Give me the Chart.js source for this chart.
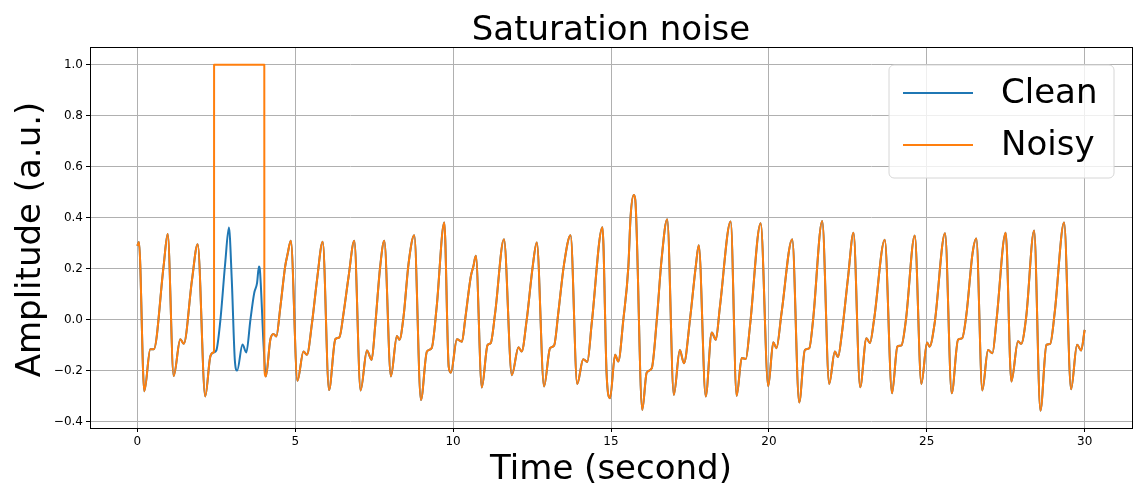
<!DOCTYPE html>
<html lang="en">
<head>
    <meta charset="UTF-8">
    <title>Saturation noise</title>
    <script src="https://cdn.jsdelivr.net/npm/chart.js"></script>
    <style>
        body { margin: 0; background: #fff; }
    </style>
</head>
<body>
    <canvas id="chart" width="1134" height="491"></canvas>
    <script>
        // time axis (seconds) and clean signal
        const timeSec = [
            0.00, 0.05, 0.22, 0.41, 0.52, 0.83, 0.96, 1.15, 1.36, 1.47, 1.73, 1.91, 2.15, 2.31, 2.41,
            2.50, 2.63, 2.78, 2.90, 2.99, 3.09, 3.16, 3.33, 3.45, 3.58, 3.70, 3.79, 3.85, 3.88, 4.00,
            4.07, 4.21, 4.31, 4.40, 4.53, 4.68, 4.76, 4.86, 5.07, 5.26, 5.37, 5.53, 5.69, 5.87,
            6.07, 6.27, 6.40, 6.53, 6.69, 6.87, 7.07, 7.27, 7.42, 7.53, 7.69, 7.82,
            8.03, 8.22, 8.30, 8.43, 8.59, 8.77, 8.98, 9.17, 9.32, 9.48, 9.72, 9.86,
            9.93, 10.12, 10.28, 10.38, 10.56, 10.64, 10.72, 10.91, 11.09, 11.19, 11.33, 11.61,
            11.86, 12.07, 12.17, 12.33, 12.52, 12.65, 12.88, 13.07, 13.20, 13.33, 13.51, 13.72,
            13.93, 14.12, 14.25, 14.39, 14.73, 14.86, 14.97, 15.13, 15.23, 15.39, 15.55, 15.62, 15.72, 15.77,
            15.99, 16.13, 16.29, 16.45, 16.60, 16.78, 16.99, 17.18, 17.31, 17.50, 17.69, 17.78,
            18.00, 18.19, 18.32, 18.45, 18.79, 18.98, 19.14, 19.27, 19.40, 19.74,
            19.98, 20.14, 20.24, 20.40, 20.74, 20.96, 21.14, 21.28, 21.40, 21.69,
            21.91, 22.09, 22.19, 22.30, 22.51, 22.68, 22.89, 23.09, 23.20, 23.33, 23.67,
            23.90, 24.07, 24.20, 24.34, 24.62, 24.83, 25.01, 25.09, 25.25, 25.58,
            25.79, 25.99, 26.12, 26.26, 26.45, 26.57, 26.76, 26.94, 27.08, 27.21, 27.50,
            27.68, 27.89, 27.99, 28.15, 28.40, 28.60, 28.79, 28.91, 29.05, 29.35,
            29.57, 29.76, 29.89, 30.00
        ];
        const clean = [
            0.29, 0.305, -0.28, -0.115, -0.115, 0.21, 0.337, -0.22, -0.076, -0.094, 0.157, 0.297, -0.30, -0.144, -0.128,
            -0.12, 0.0, 0.22, 0.362, 0.157, -0.163, -0.199, -0.097, -0.128, 0.0, 0.105, 0.144, 0.209, 0.196, -0.105,
            -0.222, -0.078, -0.055, -0.065, 0.052, 0.209, 0.259, 0.31, -0.239, -0.124, -0.137, -0.013, 0.157, 0.306,
            -0.275, -0.076, -0.068, 0.026, 0.17, 0.31, -0.277, -0.12, -0.157, -0.026, 0.209, 0.31,
            -0.222, -0.063, -0.078, 0.013, 0.222, 0.332, -0.314, -0.124, -0.111, 0.052, 0.382, -0.183,
            -0.207, -0.076, -0.086, 0.0, 0.17, 0.209, 0.251, -0.265, -0.099, -0.091, 0.026, 0.316,
            -0.217, -0.107, -0.124, 0.0, 0.209, 0.303, -0.261, -0.111, -0.10, 0.026, 0.216, 0.332,
            -0.251, -0.154, -0.165, -0.013, 0.363, -0.209, -0.307, -0.137, -0.163, 0.0, 0.209, 0.405, 0.49, 0.47,
            -0.353, -0.207, -0.19, 0.0, 0.235, 0.395, -0.294, -0.118, -0.17, 0.0, 0.216, 0.293,
            -0.30, -0.05, -0.078, 0.052, 0.386, -0.298, -0.15, -0.153, -0.026, 0.379,
            -0.26, -0.088, -0.111, 0.026, 0.316, -0.324, -0.118, -0.111, 0.0, 0.388,
            -0.251, -0.124, -0.146, -0.065, 0.17, 0.342, -0.264, -0.072, -0.091, 0.0, 0.314,
            -0.288, -0.105, -0.10, 0.0, 0.331, -0.251, -0.089, -0.105, -0.013, 0.34,
            -0.288, -0.078, -0.072, 0.026, 0.261, 0.319, -0.277, -0.118, -0.131, 0.0, 0.342,
            -0.242, -0.084, -0.094, 0.013, 0.35, -0.356, -0.098, -0.094, 0.026, 0.382,
            -0.272, -0.098, -0.12, -0.039
        ];

        // saturated window of the noisy signal: [start, end] seconds, level, signal value at each edge
        const satWindow = [2.43, 4.02];
        const satLevel = 1.0;
        const satEdgeValues = [-0.125, -0.19];

        const xTicks = [0, 5, 10, 15, 20, 25, 30];
        const yTicks = [-0.4, -0.2, 0.0, 0.2, 0.4, 0.6, 0.8, 1.0];

        const cleanPts = timeSec.map((t, i) => ({ x: t, y: clean[i] }));
        const noisyPts = [];
        cleanPts.forEach(p => { if (p.x < satWindow[0]) noisyPts.push(p); });
        // tiny x step keeps the monotone spline happy on the vertical edges
        noisyPts.push({ x: satWindow[0] - 0.002, y: satEdgeValues[0] });
        noisyPts.push({ x: satWindow[0], y: satLevel });
        noisyPts.push({ x: satWindow[1], y: satLevel });
        noisyPts.push({ x: satWindow[1] + 0.002, y: satEdgeValues[1] });
        cleanPts.forEach(p => { if (p.x > satWindow[1] + 0.002) noisyPts.push(p); });

        const FONT = "'DejaVu Sans', sans-serif";

        // title, y label, frame and legend drawn matplotlib style
        const framePlugin = {
            id: 'frame',
            afterDraw(chart) {
                const { ctx, chartArea: a } = chart;
                ctx.save();
                ctx.strokeStyle = '#000';
                ctx.lineWidth = 1;
                ctx.strokeRect(Math.round(a.left) + 0.5, Math.round(a.top) + 0.5,
                    Math.round(a.right - a.left), Math.round(a.bottom - a.top));

                ctx.fillStyle = '#000';
                ctx.font = '34px ' + FONT;
                ctx.textAlign = 'center';
                ctx.textBaseline = 'alphabetic';
                ctx.fillText('Saturation noise', (a.left + a.right) / 2, 40);

                ctx.save();
                ctx.translate(40, (a.top + a.bottom) / 2 + 2);
                ctx.rotate(-Math.PI / 2);
                ctx.fillText('Amplitude (a.u.)', 0, 0);
                ctx.restore();

                // legend box
                const bx = 889, by = 65, bw = 225, bh = 113, r = 5;
                ctx.beginPath();
                ctx.moveTo(bx + r, by);
                ctx.arcTo(bx + bw, by, bx + bw, by + bh, r);
                ctx.arcTo(bx + bw, by + bh, bx, by + bh, r);
                ctx.arcTo(bx, by + bh, bx, by, r);
                ctx.arcTo(bx, by, bx + bw, by, r);
                ctx.closePath();
                ctx.fillStyle = 'rgba(255,255,255,0.8)';
                ctx.fill();
                ctx.strokeStyle = '#d6d6d6';
                ctx.stroke();

                chart.data.datasets.forEach((ds, i) => {
                    const y = by + 28 + i * 52;
                    ctx.strokeStyle = ds.borderColor;
                    ctx.lineWidth = 2;
                    ctx.beginPath();
                    ctx.moveTo(903, y);
                    ctx.lineTo(973, y);
                    ctx.stroke();
                    ctx.fillStyle = '#000';
                    ctx.font = '34px ' + FONT;
                    ctx.textBaseline = 'middle';
                    ctx.textAlign = 'left';
                    ctx.fillText(ds.label, 1001, y + 1);
                });
                ctx.restore();
            }
        };

        new Chart(document.getElementById('chart'), {
            type: 'line',
            data: {
                datasets: [
                    { label: 'Clean', data: cleanPts, borderColor: '#1f77b4', borderWidth: 2, order: 1 },
                    { label: 'Noisy', data: noisyPts, borderColor: '#ff7f0e', borderWidth: 2, order: 0 }
                ]
            },
            options: {
                responsive: false,
                animation: false,
                devicePixelRatio: 1,
                elements: { point: { radius: 0 }, line: { cubicInterpolationMode: 'monotone', borderJoinStyle: 'round' } },
                layout: { padding: { left: 0, right: 2, top: 47, bottom: 0 } },
                plugins: {
                    legend: { display: false },
                    tooltip: { enabled: false },
                    title: { display: false }
                },
                scales: {
                    x: {
                        type: 'linear',
                        min: -1.5,
                        max: 31.5,
                        afterBuildTicks: s => { s.ticks = xTicks.map(v => ({ value: v })); },
                        afterFit: s => { s.height = 63; },
                        ticks: { color: '#000', font: { family: FONT, size: 12 }, padding: 3, maxRotation: 0,
                            callback: v => String(v) },
                        grid: { color: '#b0b0b0', lineWidth: 1, tickColor: '#000', tickLength: 4 },
                        border: { display: false },
                        title: { display: true, text: 'Time (second)', color: '#000',
                            font: { family: FONT, size: 34 }, padding: { top: 0, bottom: 0 } }
                    },
                    y: {
                        min: -0.424,
                        max: 1.07,
                        afterBuildTicks: s => { s.ticks = yTicks.map(v => ({ value: v })); },
                        afterFit: s => { s.width = 90; },
                        ticks: { color: '#000', font: { family: FONT, size: 12 }, padding: 3,
                            callback: v => (v < 0 ? '\u2212' : '') + Math.abs(v).toFixed(1) },
                        grid: { color: '#b0b0b0', lineWidth: 1, tickColor: '#000', tickLength: 4 },
                        border: { display: false },
                        title: { display: false }
                    }
                }
            },
            plugins: [framePlugin]
        });
    </script>
</body>
</html>
